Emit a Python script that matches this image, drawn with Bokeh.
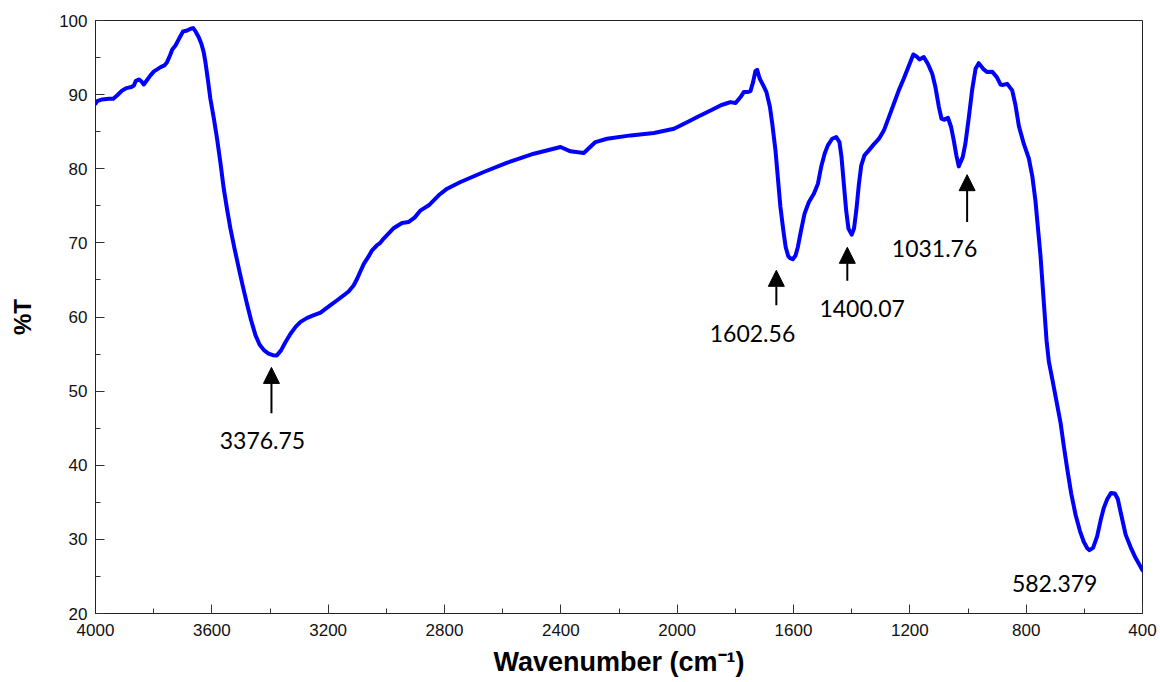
from bokeh.plotting import figure
from bokeh.models import (Range1d, SingleIntervalTicker, Arrow, NormalHead,
                          ColumnDataSource)
from bokeh.core.properties import value
from bokeh.embed import file_html
from bokeh.resources import INLINE

# FTIR spectrum: wavenumber (cm-1) and transmittance (%T)
wavenumber = [
    4000, 3994, 3977, 3954, 3939, 3926, 3908, 3893, 3877, 3868, 3862, 3851,
    3843, 3834, 3822, 3811, 3799, 3788, 3776, 3763, 3754, 3744, 3736, 3725,
    3713, 3699, 3685, 3673, 3664, 3656, 3645, 3636, 3628, 3622, 3614, 3605,
    3593, 3582, 3570, 3559, 3547, 3536, 3522, 3507, 3493, 3478, 3465, 3450,
    3436, 3421, 3405, 3390, 3376.75, 3362, 3347, 3330, 3312, 3295, 3272, 3249,
    3226, 3215, 3192, 3169, 3146, 3129, 3112, 3100, 3089, 3077, 3062, 3049,
    3032, 3020, 3009, 2974, 2946, 2923, 2903, 2882, 2854, 2837, 2820, 2791,
    2745, 2665, 2584, 2493, 2401, 2367, 2321, 2281, 2241, 2160, 2080, 2011,
    1954, 1931, 1908, 1880, 1851, 1834, 1817, 1799, 1782, 1771, 1759, 1748,
    1739, 1731, 1725, 1716, 1704, 1693, 1681, 1673, 1662, 1654, 1645, 1635,
    1627, 1618, 1612, 1602.56, 1593, 1585, 1574, 1562, 1547, 1530, 1516, 1505,
    1493, 1482, 1467, 1453, 1442, 1435, 1427, 1419, 1411, 1400.07, 1392, 1384,
    1375, 1367, 1356, 1341, 1324, 1306, 1289, 1272, 1255, 1238, 1221, 1203,
    1188, 1177, 1167, 1152, 1138, 1123, 1112, 1100, 1091, 1081, 1069, 1058,
    1049, 1040, 1031.76, 1018, 1009, 997, 986, 974, 963, 946, 934, 917, 900,
    888, 882, 865, 848, 837, 825, 808, 791, 779, 768, 759, 751, 744, 737, 730,
    722, 710, 696, 682, 670, 659, 645, 630, 615, 602, 590, 582.379, 570, 556,
    544, 533, 521, 508, 495, 485, 473, 458, 441, 424, 410, 400,
]
transmittance = [
    88.77, 89.13, 89.35, 89.44, 89.44, 89.89, 90.57, 90.88, 91.02, 91.24,
    91.82, 92.05, 91.82, 91.37, 92.0, 92.59, 93.13, 93.4, 93.71, 93.94, 94.38,
    95.28, 96.09, 96.63, 97.53, 98.52, 98.65, 98.88, 98.97, 98.52, 97.75,
    96.86, 95.73, 94.38, 92.14, 89.44, 86.75, 84.05, 80.68, 77.31, 74.39,
    71.92, 69.23, 66.53, 64.06, 61.59, 59.57, 57.55, 56.29, 55.53, 55.05,
    54.85, 54.8, 55.5, 56.6, 57.7, 58.67, 59.34, 59.88, 60.24, 60.6, 60.92,
    61.59, 62.26, 62.94, 63.48, 64.29, 65.19, 66.17, 67.21, 68.1, 69.0, 69.68,
    70.04, 70.58, 72.01, 72.69, 72.82, 73.41, 74.39, 75.07, 75.74, 76.42,
    77.31, 78.21, 79.56, 80.82, 82.03, 82.93, 82.35, 82.12, 83.6, 84.05, 84.5,
    84.82, 85.4, 86.52, 86.97, 87.42, 87.96, 88.54, 88.77, 88.99, 88.86,
    89.67, 90.34, 90.34, 90.48, 91.69, 93.17, 93.35, 92.14, 91.24, 90.34,
    88.32, 86.07, 82.48, 78.89, 74.84, 71.7, 69.45, 68.2, 67.95, 67.8, 68.3,
    69.45, 71.7, 73.95, 75.52, 76.64, 77.99, 80.23, 82.03, 83.15, 84.05,
    84.28, 83.6, 81.58, 77.99, 74.39, 71.92, 71.11, 71.92, 74.39, 77.99,
    80.46, 81.81, 82.48, 83.29, 84.05, 85.18, 86.97, 88.77, 90.57, 92.14,
    93.94, 95.42, 95.15, 94.74, 95.06, 94.16, 92.81, 91.02, 88.32, 86.75,
    86.61, 86.88, 85.63, 83.83, 81.81, 80.32, 81.6, 83.38, 86.97, 90.57,
    93.49, 94.25, 93.4, 93.04, 93.1, 92.3, 91.35, 91.3, 91.45, 90.57, 88.64,
    85.75, 83.35, 81.42, 79.01, 75.65, 71.79, 68.42, 64.57, 60.72, 56.87,
    53.98, 51.58, 48.69, 45.8, 42.43, 39.55, 36.18, 33.29, 31.12, 29.68,
    28.8, 28.55, 28.85, 30.4, 32.57, 34.25, 35.45, 36.27, 36.18, 35.45,
    33.29, 30.64, 28.96, 27.51, 26.55, 25.83,
]

# Peak annotations
peak_labels = ["3376.75", "1602.56", "1400.07", "1031.76", "582.379"]
label_x = [3426, 1741, 1364, 1115, 702]
label_y = [43.3, 57.8, 61.2, 69.3, 24.1]

# Arrows pointing up at the bands (x, tail y, head y)
arrow_x = [3395, 1659, 1415, 1003]
arrow_tail = [47.0, 61.6, 64.9, 72.8]
arrow_head = [53.2, 66.3, 69.4, 79.2]

p = figure(width=1160, height=682,
           x_range=Range1d(4000, 400), y_range=Range1d(20, 100),
           output_backend="svg", toolbar_location=None,
           min_border_left=95, min_border_right=18,
           min_border_top=20, min_border_bottom=69)

p.grid.visible = False
p.background_fill_color = "white"
p.border_fill_color = "white"
p.outline_line_color = "#222222"
p.outline_line_width = 1

p.line(wavenumber, transmittance, line_color="#0000FF", line_width=4,
       line_join="round", line_cap="round")

for ax, tick in ((p.xaxis[0], 400), (p.yaxis[0], 10)):
    ax.ticker = SingleIntervalTicker(interval=tick, num_minor_ticks=2)
    ax.major_tick_in = 9
    ax.major_tick_out = 0
    ax.minor_tick_in = 5
    ax.minor_tick_out = 0
    ax.axis_line_color = "#222222"
    ax.major_tick_line_color = "#333333"
    ax.minor_tick_line_color = "#333333"
    ax.major_label_text_font = "Liberation Sans"
    ax.major_label_text_font_size = "17px"
    ax.major_label_text_color = "#111111"
    ax.axis_label_text_font = "Liberation Sans"
    ax.axis_label_text_font_style = "bold"
    ax.axis_label_text_color = "black"

p.xaxis.axis_label = "Wavenumber (cm\u207b\u00b9)"
p.xaxis.axis_label_text_font_size = "27px"
p.xaxis.major_label_standoff = 10
p.xaxis.axis_label_standoff = 8

p.yaxis.axis_label = "%T"
p.yaxis.axis_label_text_font_size = "24px"
p.yaxis.major_label_standoff = 8
p.yaxis.axis_label_standoff = 20

for ax_x, t, h in zip(arrow_x, arrow_tail, arrow_head):
    p.add_layout(Arrow(end=NormalHead(size=16, fill_color="black",
                                      line_color="black", line_width=1),
                       x_start=ax_x, y_start=t, x_end=ax_x, y_end=h,
                       line_color="black", line_width=2))

labels = ColumnDataSource(dict(x=label_x, y=label_y, text=peak_labels))
p.text(x="x", y="y", text="text", source=labels,
       text_font=value("Lato"), text_font_size="23px",
       text_align="center", text_baseline="middle", text_color="black")

open("out.html", "w").write(file_html(p, INLINE))
